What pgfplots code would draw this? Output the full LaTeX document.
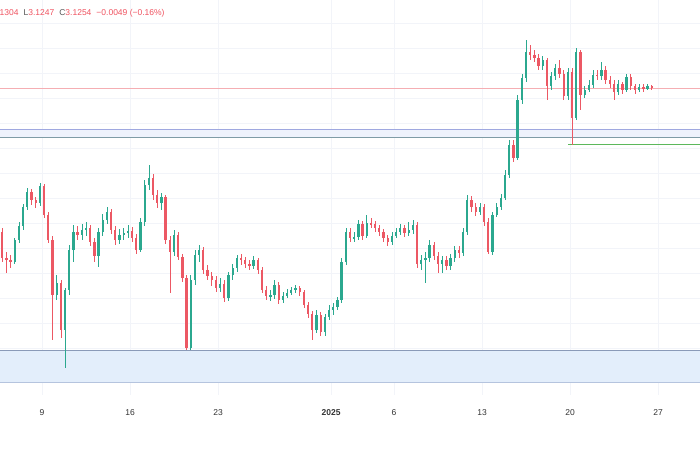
\documentclass[border=0pt]{standalone}
\usepackage{pgfplots}
\pgfplotsset{compat=1.18}
\usepackage{pgfplotstable}
\usepackage{fontspec}
\setmainfont{Liberation Sans}
\definecolor{upc}{HTML}{2BA88F}
\definecolor{dnc}{HTML}{EC5864}
\definecolor{gridc}{HTML}{F2F4F9}
\definecolor{labc}{HTML}{333333}
\definecolor{pricel}{HTML}{F5AEB3}
\definecolor{bandAfill}{HTML}{EEF2FC}
\definecolor{bandAtop}{HTML}{9FA8E0}
\definecolor{bandAbot}{HTML}{7F9BA6}
\definecolor{bandBfill}{HTML}{E3EEFB}
\definecolor{bandBtop}{HTML}{8A9AB8}
\definecolor{bandBbot}{HTML}{B5C4DE}
\definecolor{greenl}{HTML}{5CB85C}
\definecolor{hdrred}{HTML}{EF5360}
\definecolor{hdrgray}{HTML}{555555}

\pgfplotstableread{
i o h l c
0 2.455 2.475 2.305 2.325
1 2.325 2.355 2.25 2.315
2 2.315 2.34 2.275 2.305
3 2.305 2.425 2.295 2.415
4 2.415 2.505 2.40 2.485
5 2.485 2.595 2.465 2.58
6 2.58 2.675 2.565 2.655
7 2.655 2.67 2.59 2.615
8 2.615 2.63 2.575 2.60
9 2.60 2.70 2.585 2.685
10 2.685 2.695 2.525 2.54
11 2.54 2.555 2.40 2.415
12 2.415 2.435 1.915 2.14
13 2.14 2.24 2.115 2.20
14 2.20 2.215 1.925 1.965
15 1.965 2.175 1.775 2.165
16 2.165 2.39 2.14 2.365
17 2.365 2.49 2.305 2.455
18 2.455 2.485 2.415 2.44
19 2.44 2.495 2.415 2.465
20 2.465 2.505 2.435 2.475
21 2.475 2.49 2.385 2.405
22 2.405 2.425 2.305 2.335
23 2.335 2.475 2.28 2.455
24 2.455 2.545 2.435 2.515
25 2.515 2.58 2.495 2.555
26 2.555 2.57 2.445 2.465
27 2.465 2.485 2.39 2.415
28 2.415 2.47 2.395 2.44
29 2.44 2.475 2.415 2.45
30 2.45 2.49 2.425 2.46
31 2.46 2.48 2.405 2.425
32 2.425 2.445 2.345 2.365
33 2.365 2.525 2.355 2.505
34 2.505 2.715 2.485 2.69
35 2.69 2.79 2.665 2.725
36 2.725 2.745 2.615 2.64
37 2.64 2.665 2.575 2.60
38 2.60 2.65 2.565 2.63
39 2.63 2.64 2.395 2.415
40 2.415 2.435 2.15 2.355
41 2.355 2.465 2.335 2.44
42 2.44 2.455 2.315 2.33
43 2.33 2.345 2.205 2.225
44 2.225 2.24 1.865 1.875
45 1.875 2.24 1.865 2.215
46 2.215 2.365 2.19 2.34
47 2.34 2.39 2.305 2.365
48 2.365 2.38 2.245 2.265
49 2.265 2.29 2.215 2.235
50 2.235 2.255 2.185 2.215
51 2.215 2.235 2.155 2.175
52 2.175 2.225 2.155 2.195
53 2.195 2.215 2.105 2.125
54 2.125 2.255 2.11 2.24
55 2.24 2.295 2.215 2.275
56 2.275 2.34 2.255 2.325
57 2.325 2.345 2.29 2.315
58 2.315 2.33 2.275 2.295
59 2.295 2.315 2.265 2.285
60 2.285 2.335 2.27 2.315
61 2.315 2.325 2.245 2.265
62 2.265 2.28 2.15 2.165
63 2.165 2.185 2.115 2.135
64 2.135 2.165 2.11 2.14
65 2.14 2.215 2.12 2.19
66 2.19 2.205 2.095 2.115
67 2.115 2.155 2.10 2.135
68 2.135 2.17 2.125 2.15
69 2.15 2.18 2.14 2.165
70 2.165 2.19 2.15 2.175
71 2.175 2.185 2.135 2.155
72 2.155 2.165 2.075 2.09
73 2.09 2.105 2.025 2.045
74 2.045 2.06 1.915 1.965
75 1.965 2.065 1.95 2.04
76 2.04 2.055 1.935 1.955
77 1.955 2.045 1.935 2.03
78 2.03 2.09 2.015 2.065
79 2.065 2.10 2.04 2.08
80 2.08 2.13 2.065 2.115
81 2.115 2.325 2.10 2.305
82 2.305 2.475 2.29 2.455
83 2.455 2.475 2.405 2.425
84 2.425 2.455 2.405 2.43
85 2.43 2.515 2.415 2.495
86 2.495 2.51 2.415 2.435
87 2.435 2.54 2.425 2.50
88 2.50 2.525 2.475 2.495
89 2.495 2.51 2.455 2.475
90 2.475 2.49 2.435 2.455
91 2.455 2.47 2.405 2.425
92 2.425 2.44 2.385 2.405
93 2.405 2.455 2.39 2.435
94 2.435 2.475 2.425 2.455
95 2.455 2.495 2.44 2.475
96 2.475 2.49 2.43 2.45
97 2.45 2.505 2.435 2.465
98 2.465 2.515 2.445 2.49
99 2.49 2.505 2.275 2.295
100 2.295 2.34 2.265 2.315
101 2.315 2.355 2.20 2.325
102 2.325 2.415 2.305 2.39
103 2.39 2.405 2.315 2.335
104 2.335 2.355 2.25 2.295
105 2.295 2.335 2.25 2.315
106 2.315 2.335 2.265 2.285
107 2.285 2.345 2.265 2.325
108 2.325 2.385 2.305 2.365
109 2.365 2.385 2.325 2.35
110 2.35 2.475 2.335 2.455
111 2.455 2.64 2.44 2.615
112 2.615 2.635 2.555 2.58
113 2.58 2.60 2.535 2.555
114 2.555 2.60 2.54 2.58
115 2.58 2.595 2.485 2.505
116 2.505 2.525 2.345 2.355
117 2.355 2.555 2.34 2.54
118 2.54 2.60 2.53 2.58
119 2.58 2.645 2.565 2.625
120 2.625 2.765 2.615 2.74
121 2.74 2.915 2.725 2.89
122 2.89 2.915 2.805 2.825
123 2.825 3.14 2.815 3.115
124 3.115 3.245 3.095 3.225
125 3.225 3.415 3.205 3.355
126 3.355 3.39 3.315 3.34
127 3.34 3.365 3.305 3.325
128 3.325 3.345 3.265 3.285
129 3.285 3.335 3.265 3.315
130 3.315 3.325 3.115 3.185
131 3.185 3.255 3.165 3.235
132 3.235 3.295 3.215 3.275
133 3.275 3.315 3.225 3.245
134 3.245 3.265 3.115 3.135
135 3.135 3.275 3.115 3.255
136 3.255 3.275 2.89 3.025
137 3.025 3.375 3.015 3.355
138 3.355 3.365 3.065 3.14
139 3.14 3.185 3.125 3.165
140 3.165 3.215 3.155 3.19
141 3.19 3.265 3.175 3.24
142 3.24 3.265 3.215 3.235
143 3.235 3.305 3.215 3.265
144 3.265 3.285 3.195 3.215
145 3.215 3.235 3.175 3.195
146 3.195 3.215 3.115 3.155
147 3.155 3.215 3.14 3.195
148 3.195 3.205 3.145 3.165
149 3.165 3.245 3.155 3.23
150 3.23 3.245 3.165 3.185
151 3.185 3.195 3.145 3.165
152 3.165 3.195 3.155 3.18
153 3.18 3.195 3.155 3.17
154 3.17 3.195 3.165 3.185
155 3.185 3.19 3.165 3.175
}\candles

\pgfplotsset{
  candle/.style n args={2}{draw=none, mark=none, forget plot, restrict y to domain=1:5,
    error bars/.cd, y dir=both, y explicit, error mark=none,
    error bar style={draw=#1, line width=#2}},
}

\begin{document}
\begin{tikzpicture}
\path[use as bounding box] (0pt,-55pt) rectangle (700pt,395pt);
\begin{axis}[
  anchor=south west, scale only axis,
  width=700pt, height=395pt,
  xmin=4.659, xmax=60.34, ymin=1.64, ymax=3.615,
  axis line style={draw=none},
  major tick length=0pt,
  xtick={8,15,22,31,36,43,50,57},
  xticklabels={9,16,23,\textbf{2025},6,13,20,27},
  ytick={1.75,1.875,2,2.125,2.25,2.375,2.5,2.625,2.75,2.875,3,3.125,3.25,3.375,3.5},
  yticklabel=\empty,
  grid=major,
  grid style={draw=gridc, line width=0.7pt},
  xticklabel style={font=\fontsize{8.5}{10}\selectfont, text=labc, anchor=center, yshift=-18pt},
  clip=true,
]
% lower support band
\addplot[draw=none, fill=bandBfill, forget plot] coordinates {(4,1.705) (61,1.705) (61,1.865) (4,1.865)} -- cycle;
\addplot[draw=bandBtop, line width=0.8pt, forget plot] coordinates {(4,1.865) (61,1.865)};
\addplot[draw=bandBbot, line width=0.8pt, forget plot] coordinates {(4,1.705) (61,1.705)};
% upper resistance band
\addplot[draw=none, fill=bandAfill, forget plot] coordinates {(4,2.93) (61,2.93) (61,2.97) (4,2.97)} -- cycle;
\addplot[draw=bandAtop, line width=0.8pt, forget plot] coordinates {(4,2.97) (61,2.97)};
\addplot[draw=bandAbot, line width=0.8pt, forget plot] coordinates {(4,2.93) (61,2.93)};
% green ray
\addplot[draw=greenl, line width=0.8pt, forget plot] coordinates {(49.84,2.895) (61,2.895)};
% price line
\addplot[draw=pricel, line width=0.6pt, forget plot] coordinates {(4,3.175) (61,3.175)};
% wicks
\addplot[candle={upc}{0.6pt}]
  table[x expr=4.8333+\thisrow{i}/3,
        y expr={\thisrow{c}>=\thisrow{o} ? (\thisrow{h}+\thisrow{l})/2 : 0},
        y error expr=(\thisrow{h}-\thisrow{l})/2] {\candles};
\addplot[candle={dnc}{0.6pt}]
  table[x expr=4.8333+\thisrow{i}/3,
        y expr={\thisrow{c}<\thisrow{o} ? (\thisrow{h}+\thisrow{l})/2 : 0},
        y error expr=(\thisrow{h}-\thisrow{l})/2] {\candles};
% bodies
\addplot[candle={upc}{2.3pt}]
  table[x expr=4.8333+\thisrow{i}/3,
        y expr={\thisrow{c}>=\thisrow{o} ? (\thisrow{o}+\thisrow{c})/2 : 0},
        y error expr={max(abs(\thisrow{c}-\thisrow{o})/2,0.0025)}] {\candles};
\addplot[candle={dnc}{2.3pt}]
  table[x expr=4.8333+\thisrow{i}/3,
        y expr={\thisrow{c}<\thisrow{o} ? (\thisrow{o}+\thisrow{c})/2 : 0},
        y error expr={max(abs(\thisrow{c}-\thisrow{o})/2,0.0025)}] {\candles};
\end{axis}
\node[anchor=west, inner sep=0pt, font=\fontsize{8.5}{10}\selectfont] at (-0.5pt,382pt)
  {\textcolor{hdrred}{1304}\hspace{5pt}\textcolor{hdrgray}{L}\textcolor{hdrred}{3.1247}\hspace{5pt}\textcolor{hdrgray}{C}\textcolor{hdrred}{3.1254}\hspace{5pt}\textcolor{hdrred}{−0.0049 (−0.16\%)}};
\end{tikzpicture}
\end{document}
